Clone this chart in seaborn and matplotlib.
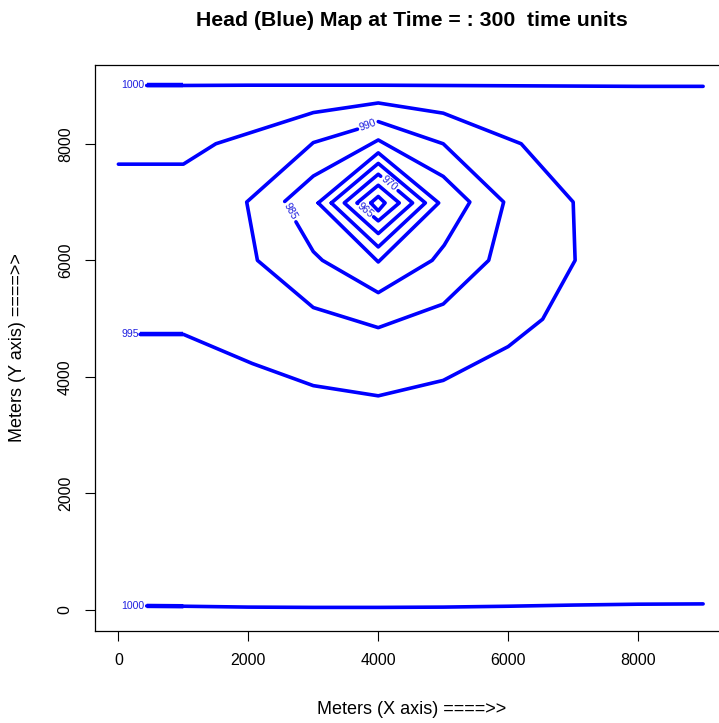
import pandas as pd
import matplotlib
matplotlib.use('Agg')
import matplotlib.pyplot as plt
import seaborn as sns

# contour pieces of the head map (meters)
top_1000_x = [436, 1000, 2000, 3000, 4000, 5000, 6000, 7000, 8000, 9000]
top_1000_y = [9000, 9000, 9005, 9005, 9005, 9000, 8995, 8990, 8985, 8985]
bot_1000_x = [436, 1000, 2000, 3000, 4000, 5000, 6000, 7000, 8000, 9000]
bot_1000_y = [70, 65, 50, 45, 45, 50, 65, 85, 100, 105]

c995_x = [0, 1000, 1500, 3000, 4000, 5000, 6200, 7000, 7030, 6530, 6000, 5000, 4000, 3000, 2060, 1000, 334]
c995_y = [7650, 7650, 8000, 8535, 8700, 8525, 8000, 7000, 6000, 4990, 4520, 3940, 3675, 3850, 4230, 4730, 4730]

c990_x = [4000, 5000, 5930, 5700, 5000, 4000, 3000, 2140, 1975, 3000, 3680]
c990_y = [8380, 8000, 7000, 6000, 5250, 4845, 5190, 6000, 7000, 8020, 8250]

c985_x = [2733, 3000, 3140, 4000, 4830, 5015, 5410, 5000, 4000, 3000, 2560]
c985_y = [6660, 6150, 6000, 5446, 6000, 6260, 7000, 7440, 8065, 7446, 7010]

c980_x = [3075, 4000, 4930, 4000, 3075]
c980_y = [6985, 7844, 6985, 5972, 6985]
c975_x = [3277, 4000, 4725, 4000, 3277]
c975_y = [6985, 7663, 6985, 6230, 6985]
c970_x = [4306, 4528, 4000, 3477, 4000, 4037]
c970_y = [7195, 6985, 6460, 6985, 7477, 7443]
c965_x = [3928, 4000, 4323, 4000, 3672, 3682]
c965_y = [6746, 6677, 6985, 7288, 6985, 6976]
c960_x = [3885, 4000, 4105, 4000, 3885]
c960_y = [6985, 7096, 6985, 6850, 6985]

# short stretches right after the edge labels look drawn twice (heavier)
heavy_x = [[436, 1000], [436, 1000], [334, 1000]]
heavy_y = [[9000, 9000], [70, 65], [4730, 4730]]

label_text = ['1000', '1000', '995', '990', '985', '970', '965']
label_x = [228, 228, 180, 3840, 2645, 4170, 3805]
label_y = [9000, 70, 4730, 8315, 6835, 7320, 6863]
label_rot = [0, 0, 0, 20, -61, -40, -40]

ticks = [0, 2000, 4000, 6000, 8000]

pieces = [(top_1000_x, top_1000_y), (bot_1000_x, bot_1000_y), (c995_x, c995_y),
          (c990_x, c990_y), (c985_x, c985_y), (c980_x, c980_y), (c975_x, c975_y),
          (c970_x, c970_y), (c965_x, c965_y), (c960_x, c960_y)]
rows = []
for i, (xs, ys) in enumerate(pieces):
    for x, y in zip(xs, ys):
        rows.append({'x': x, 'y': y, 'seg': i})
df = pd.DataFrame(rows)

rows = []
for i, (xs, ys) in enumerate(zip(heavy_x, heavy_y)):
    for x, y in zip(xs, ys):
        rows.append({'x': x, 'y': y, 'seg': i})
df_heavy = pd.DataFrame(rows)

sns.set_theme(style='ticks')
plt.rcParams['font.family'] = ['Liberation Sans', 'DejaVu Sans']
plt.rcParams['text.color'] = 'black'
plt.rcParams['axes.labelcolor'] = 'black'
plt.rcParams['xtick.color'] = 'black'
plt.rcParams['ytick.color'] = 'black'

fig = plt.figure(figsize=(7.19, 7.23), dpi=100)
ax = fig.add_axes([95 / 719, 92 / 723, 631.5 / 719, 566.5 / 723])

sns.lineplot(data=df, x='x', y='y', units='seg', estimator=None, sort=False,
             color='blue', linewidth=2.6, ax=ax, legend=False,
             solid_capstyle='round', solid_joinstyle='round')
sns.lineplot(data=df_heavy, x='x', y='y', units='seg', estimator=None, sort=False,
             color='blue', linewidth=3.2, ax=ax, legend=False, solid_capstyle='butt')

for t, x, y, r in zip(label_text, label_x, label_y, label_rot):
    ax.text(x, y, t, fontsize=7.6, color='#2020e0', rotation=r,
            ha='center', va='center', rotation_mode='anchor')

ax.set_xlim(-360, 9360)
ax.set_ylim(-360, 9360)
ax.set_xticks(ticks)
ax.set_yticks(ticks)
ax.set_xticklabels([str(t) for t in ticks], fontsize=11.5)
ax.set_yticklabels([str(t) for t in ticks], fontsize=11.5, rotation=90, va='center')
ax.tick_params(direction='out', length=7, width=0.8, color='black', pad=9)
for s in ax.spines.values():
    s.set_color('black')
    s.set_linewidth(0.9)

ax.set_xlabel('Meters (X axis) ====>>', fontsize=13)
ax.set_ylabel('Meters (Y axis) ====>>', fontsize=13)
ax.xaxis.set_label_coords((412 - 95) / 631.5, (631 - 709) / 566.5)
ax.xaxis.label.set_va('center')
ax.yaxis.set_label_coords((18 - 95) / 631.5, (631 - 348) / 566.5)
ax.yaxis.label.set_va('center')

fig.text(412 / 719, 1 - 20 / 723, 'Head (Blue) Map at Time = : 300  time units',
         ha='center', va='center', fontsize=15.3, fontweight='bold')

plt.savefig('out.png', dpi=100)
